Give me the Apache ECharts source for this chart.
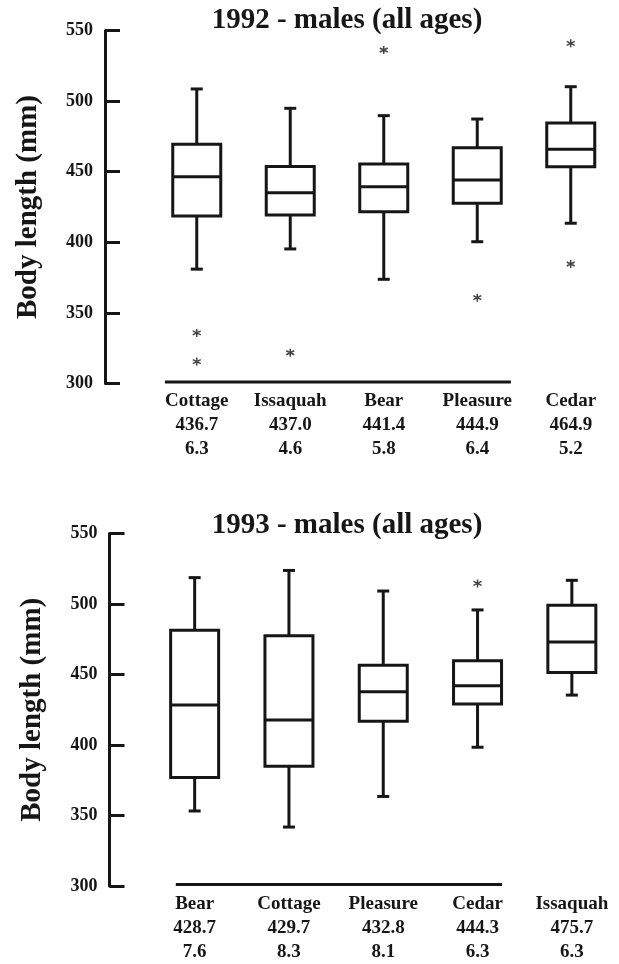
<!DOCTYPE html>
<html>
<head>
<meta charset="utf-8">
<script src="https://cdn.jsdelivr.net/npm/echarts@6/dist/echarts.min.js"></script>
<style>
html, body { margin: 0; padding: 0; background: #fff; }
#chart { width: 619px; height: 964px; }
</style>
</head>
<body>
<div id="chart"></div>
<script>
// 1992
var lakes92 = ['Cottage', 'Issaquah', 'Bear', 'Pleasure', 'Cedar'];
var means92 = ['436.7', '437.0', '441.4', '444.9', '464.9'];
var se92 = ['6.3', '4.6', '5.8', '6.4', '5.2'];
// low whisker, q1, median, q3, high whisker
var box92 = [
	[381.0, 418.6, 446.5, 469.4, 508.6],
	[395.3, 419.3, 435.1, 453.6, 494.9],
	[373.8, 421.7, 439.4, 455.5, 489.7],
	[400.4, 427.6, 444.1, 467.0, 487.3],
	[413.5, 453.5, 465.9, 484.5, 510.2]
];
var out92 = [[0, 335.8], [0, 315.5], [1, 321.8], [2, 536.2], [3, 360.8], [4, 540.9], [4, 384.6]];

// 1993
var lakes93 = ['Bear', 'Cottage', 'Pleasure', 'Cedar', 'Issaquah'];
var means93 = ['428.7', '429.7', '432.8', '444.3', '475.7'];
var se93 = ['7.6', '8.3', '8.1', '6.3', '6.3'];
var box93 = [
	[353.2, 377.0, 428.4, 481.4, 518.7],
	[341.8, 385.0, 417.8, 477.4, 523.8],
	[363.5, 416.8, 437.8, 456.6, 509.2],
	[398.4, 429.1, 442.0, 459.7, 495.8],
	[435.4, 451.5, 473.1, 499.1, 516.8]
];
var out93 = [[3, 514.6]];

var yMin = 300, yMax = 550, yStep = 50;

var ink = '#161616';
var serif = 'Liberation Serif';

function renderBox(params, api) {
	var x = api.value(0);
	var lo = api.coord([x, api.value(1)]);
	var q1 = api.coord([x, api.value(2)]);
	var md = api.coord([x, api.value(3)]);
	var q3 = api.coord([x, api.value(4)]);
	var hi = api.coord([x, api.value(5)]);
	var cx = lo[0], hw = 24, cw = 6;
	var st = { stroke: ink, lineWidth: 3, fill: null };
	return {
		type: 'group',
		children: [
			{ type: 'line', shape: { x1: cx, y1: hi[1], x2: cx, y2: q3[1] }, style: st },
			{ type: 'line', shape: { x1: cx, y1: q1[1], x2: cx, y2: lo[1] }, style: st },
			{ type: 'line', shape: { x1: cx - cw, y1: hi[1], x2: cx + cw, y2: hi[1] }, style: st },
			{ type: 'line', shape: { x1: cx - cw, y1: lo[1], x2: cx + cw, y2: lo[1] }, style: st },
			{ type: 'rect', shape: { x: cx - hw, y: q3[1], width: hw * 2, height: q1[1] - q3[1] },
				style: { stroke: ink, lineWidth: 3, fill: '#fff' } },
			{ type: 'line', shape: { x1: cx - hw, y1: md[1], x2: cx + hw, y2: md[1] }, style: st }
		]
	};
}

function xAxisOf(grid, lakes, means, se) {
	return {
		type: 'category', gridIndex: grid, data: lakes,
		axisLine: { show: false }, axisTick: { show: false },
		axisLabel: {
			interval: 0, margin: 6, fontFamily: serif, fontWeight: 'bold', fontSize: 19, lineHeight: 24, color: ink,
			formatter: function(v, i) { return v + '\n' + means[i] + '\n' + se[i]; }
		}
	};
}

function yAxisOf(grid, off) {
	return {
		type: 'value', gridIndex: grid, min: yMin, max: yMax, interval: yStep, offset: off,
		name: 'Body length (mm)', nameLocation: 'middle', nameRotate: 90, nameGap: 62,
		nameTextStyle: { fontFamily: serif, fontWeight: 'bold', fontSize: 29, color: ink },
		axisLine: { show: true, lineStyle: { color: ink, width: 3 } },
		axisTick: { show: true, inside: true, length: 15, lineStyle: { color: ink, width: 3 } },
		axisLabel: { margin: 12, fontFamily: serif, fontWeight: 'bold', fontSize: 18, color: ink },
		splitLine: { show: false }
	};
}

var star = 'path://M5,0L5,10M0.67,2.5L9.33,7.5M0.67,7.5L9.33,2.5';

var chart = echarts.init(document.getElementById('chart'));
chart.setOption({
	backgroundColor: '#fff',
	animation: false,
	grid: [
		{ left: 150, width: 467.5, top: 30.5, height: 353 },
		{ left: 147.5, width: 475, top: 533.5, height: 354 }
	],
	xAxis: [xAxisOf(0, lakes92, means92, se92), xAxisOf(1, lakes93, means93, se93)],
	yAxis: [yAxisOf(0, 45), yAxisOf(1, 38)],
	series: [
		{ type: 'custom', xAxisIndex: 0, yAxisIndex: 0, renderItem: renderBox,
			encode: { x: 0, y: [1, 2, 3, 4, 5] },
			data: box92.map(function(b, i) { return [i].concat(b); }) },
		{ type: 'custom', xAxisIndex: 1, yAxisIndex: 1, renderItem: renderBox,
			encode: { x: 0, y: [1, 2, 3, 4, 5] },
			data: box93.map(function(b, i) { return [i].concat(b); }) },
		{ type: 'scatter', xAxisIndex: 0, yAxisIndex: 0, data: out92, symbol: star, symbolSize: 8,
			itemStyle: { color: 'none', borderColor: ink, borderWidth: 1.5 } },
		{ type: 'scatter', xAxisIndex: 1, yAxisIndex: 1, data: out93, symbol: star, symbolSize: 8,
			itemStyle: { color: 'none', borderColor: ink, borderWidth: 1.5 } }
	]
});

// base lines under the boxes and the two titles
function baseLine(ax, lakes, a, b) {
	var p0 = chart.convertToPixel({ xAxisIndex: ax, yAxisIndex: ax }, [lakes[0], yMin]);
	var p1 = chart.convertToPixel({ xAxisIndex: ax, yAxisIndex: ax }, [lakes[1], yMin]);
	var p3 = chart.convertToPixel({ xAxisIndex: ax, yAxisIndex: ax }, [lakes[3], yMin]);
	var band = p1[0] - p0[0];
	return { type: 'line', shape: { x1: p0[0] - a * band, y1: p0[1] - 1.5, x2: p3[0] + b * band, y2: p0[1] - 1.5 },
		style: { stroke: ink, lineWidth: 3 } };
}
function titleText(txt, y) {
	return { type: 'text', x: 347, y: y,
		style: { text: txt, fill: ink, font: 'bold 29px "Liberation Serif"', textAlign: 'center', textVerticalAlign: 'middle' } };
}
chart.setOption({
	graphic: [
		baseLine(0, lakes92, 0.34, 0.36),
		baseLine(1, lakes93, 0.2, 0.26),
		titleText('1992 - males (all ages)', 21),
		titleText('1993 - males (all ages)', 526)
	]
});
</script>
</body>
</html>
